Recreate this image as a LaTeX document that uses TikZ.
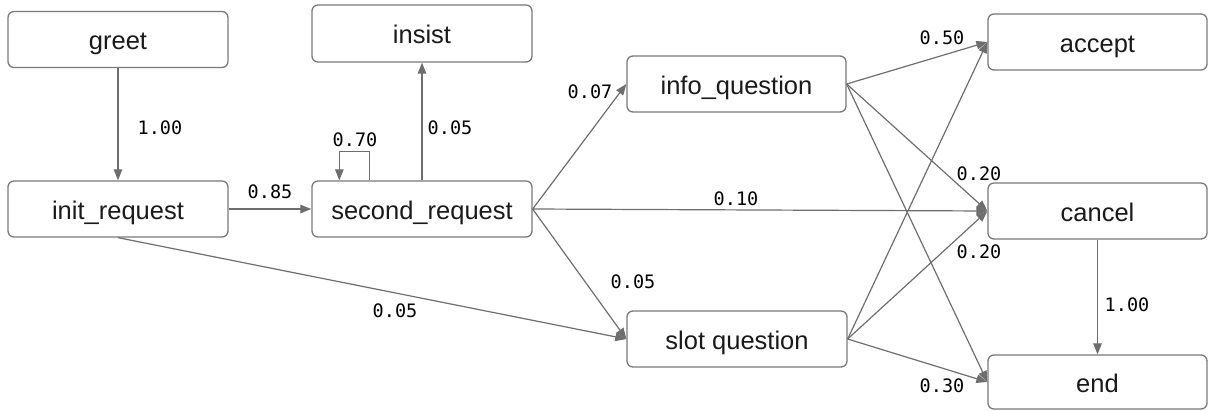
\documentclass[tikz,border=0pt]{standalone}
\usepackage{fontspec}
\setmainfont{Liberation Sans}
\newfontfamily\monofont{DejaVu Sans Mono}
\usetikzlibrary{arrows.meta,calc}
\definecolor{edgecol}{HTML}{6E6E6E}
\definecolor{boxcol}{HTML}{7A7A7A}
\definecolor{txtcol}{HTML}{1A1A1A}
\tikzset{
  state/.style={draw=boxcol, line width=1.3pt, rounded corners=6pt, fill=white,
    minimum width=220pt, minimum height=56pt, inner sep=0pt, text=txtcol,
    text height=22pt, text depth=2pt,
    font=\fontsize{25.5pt}{30pt}\selectfont},
  conn/.style={draw=edgecol, line width=1.2pt, -{Triangle[length=11pt,width=8.5pt]}},
  lbl/.style={font=\monofont\fontsize{18.5pt}{22pt}\selectfont, text=black, inner sep=0pt}
}
\begin{document}
\begin{tikzpicture}[x=1pt,y=-1pt]
\useasboundingbox (0,0) rectangle (1208,410);
\node[state] (greet) at (118,39.5) {greet};
\node[state, minimum height=57pt] (insist) at (422,33.5) {insist};
\node[state] (init) at (118,209) {init\_request};
\node[state] (sr) at (422,209) {second\_request};
\node[state, minimum width=219pt] (info) at (736.5,84) {info\_question};
\node[state] (slot) at (737,339) {slot question};
\node[state, minimum width=219pt] (accept) at (1097.5,42) {accept};
\node[state, minimum width=219pt] (cancel) at (1097.5,211) {cancel};
\node[state, minimum width=219pt, minimum height=54pt] (end) at (1097.5,382) {end};

\draw[conn] (greet) -- (init) node[lbl, at={(160,128)}] {1.00};
\draw[conn] (init) -- (sr) node[lbl, at={(270,192)}] {0.85};
\draw[conn] ([xshift=58pt]sr.north west) -- ++(0,-29) -- ++(-30,0) -- ([xshift=28pt]sr.north west)
  node[lbl, at={(355,140)}] {0.70};
\draw[conn] (sr) -- (insist) node[lbl, at={(450,128)}] {0.05};
\draw[conn] (sr.east) -- (info.west) node[lbl, at={(590,92)}] {0.07};
\draw[conn] (sr.east) -- (cancel.west) node[lbl, at={(736,199)}] {0.10};
\draw[conn] (sr.east) -- (slot.west) node[lbl, at={(633,282)}] {0.05};
\draw[conn] (init.south) -- (slot.west) node[lbl, at={(395,311)}] {0.05};
\draw[conn] (info.east) -- (accept.west) node[lbl, at={(942,38)}] {0.50};
\draw[conn] (info.east) -- (cancel.west) node[lbl, at={(979,174)}] {0.20};
\draw[conn] (info.east) -- (end.west);
\draw[conn] (slot.east) -- (accept.west);
\draw[conn] (slot.east) -- (cancel.west) node[lbl, at={(979,252)}] {0.20};
\draw[conn] (slot.east) -- (end.west) node[lbl, at={(942,386)}] {0.30};
\draw[conn] (cancel) -- (end) node[lbl, at={(1127,305)}] {1.00};
\end{tikzpicture}
\end{document}
